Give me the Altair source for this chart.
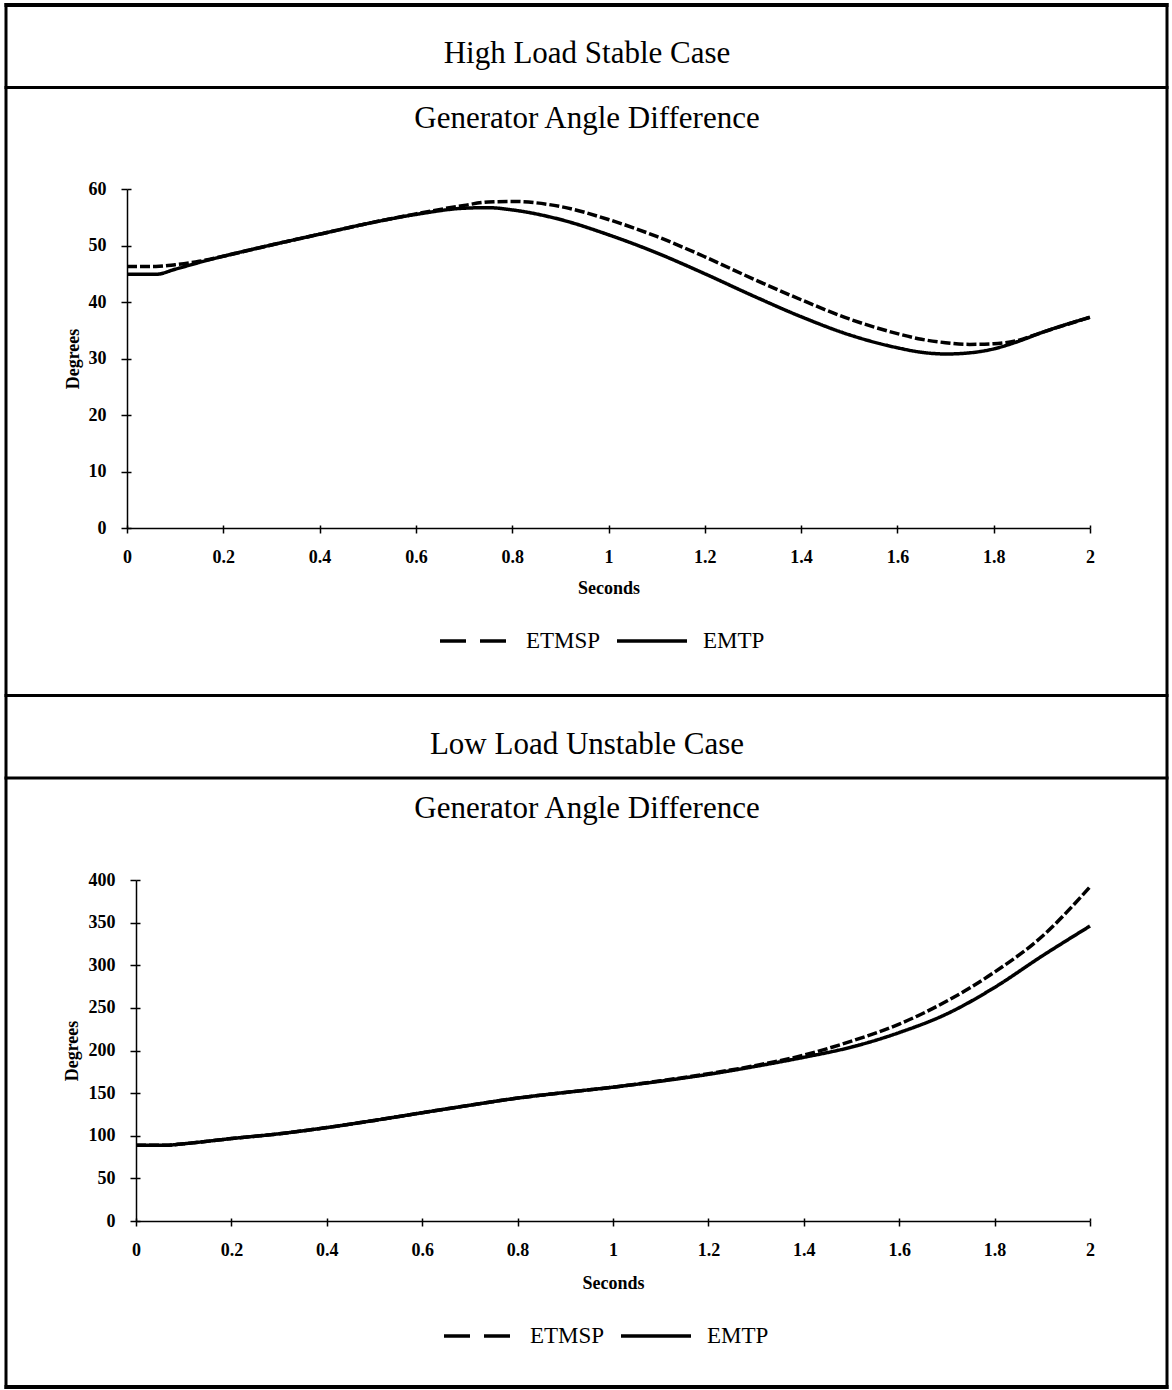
import altair as alt
import pandas as pd

# ---------------- data ----------------
series_names = ["ETMSP", "EMTP"]
x_ticks = [0, 0.2, 0.4, 0.6, 0.8, 1.0, 1.2, 1.4, 1.6, 1.8, 2.0]

high_t = [0, 0.06, 0.1, 0.15, 0.2, 0.3, 0.4, 0.5, 0.6, 0.7, 0.75, 0.8, 0.9,
          1.0, 1.1, 1.2, 1.3, 1.4, 1.5, 1.6, 1.65, 1.7, 1.75, 1.8, 1.85, 1.9, 2.0]
high_emtp = [44.9, 44.9, 45.8, 47.0, 48.1, 50.1, 52.0, 53.9, 55.5, 56.6, 56.7, 56.3, 54.6,
             51.9, 48.7, 45.0, 41.1, 37.4, 34.2, 31.9, 31.1, 30.8, 31.0, 31.7, 33.0, 34.6, 37.3]
high_etmsp = [46.3, 46.3, 46.6, 47.2, 48.1, 50.1, 52.0, 53.9, 55.6, 57.1, 57.7, 57.8, 56.9,
              54.6, 51.6, 48.0, 44.1, 40.4, 37.0, 34.4, 33.4, 32.8, 32.5, 32.6, 33.2, 34.6, 37.3]
high_y_ticks = [0, 10, 20, 30, 40, 50, 60]

low_t = [0, 0.06, 0.1, 0.2, 0.3, 0.4, 0.5, 0.6, 0.7, 0.8, 0.9, 1.0,
         1.1, 1.2, 1.3, 1.4, 1.5, 1.6, 1.7, 1.8, 1.9, 2.0]
low_emtp = [88.8, 88.8, 90.6, 96.7, 102.3, 109.6, 118.0, 127.0, 135.8, 144.2, 150.8, 157.0,
            164.0, 172.0, 181.5, 192.0, 204.0, 221.0, 243.0, 274.0, 311.0, 346.0]
low_etmsp = [88.8, 88.8, 90.6, 96.7, 102.3, 109.6, 118.0, 127.0, 135.8, 144.2, 150.8, 157.0,
             164.5, 172.8, 182.5, 194.5, 211.0, 231.0, 258.0, 292.0, 334.0, 392.0]
low_y_ticks = [0, 50, 100, 150, 200, 250, 300, 350, 400]

FONT = "Liberation Serif"
W, H = 1172, 1390
dummy = pd.DataFrame({"a": [1]})


def hrule(x1, x2, y, w):
    return alt.Chart(dummy).mark_rule(color="black", strokeWidth=w, strokeCap="butt").encode(
        x=alt.value(x1), x2=alt.value(x2), y=alt.value(y))


def vrule(x, y1, y2, w):
    return alt.Chart(dummy).mark_rule(color="black", strokeWidth=w, strokeCap="butt").encode(
        x=alt.value(x), y=alt.value(y1), y2=alt.value(y2))


def label(text, x, y, size):
    return alt.Chart(dummy).mark_text(text=text, font=FONT, fontSize=size, color="black",
                                      align="center", baseline="alphabetic").encode(
        x=alt.value(x), y=alt.value(y))


def panel(t, emtp, etmsp, yticks, x_range, y_range, legend_x, legend_y, xtitle_y, ytitle_x):
    df = pd.DataFrame({
        "t": list(t) + list(t),
        "value": list(etmsp) + list(emtp),
        "series": [series_names[0]] * len(t) + [series_names[1]] * len(t),
    })
    x_scale = alt.Scale(domain=[0, 2], range=x_range, nice=False)
    y_scale = alt.Scale(domain=[0, yticks[-1]], range=y_range, nice=False)
    x_axis = alt.Axis(orient="bottom", offset=-(H - y_range[0]),
                      values=x_ticks, format=".1~f", title="Seconds", grid=False,
                      labelFont=FONT, labelFontSize=18, labelFontWeight="bold",
                      labelColor="black", labelPadding=15, labelFlush=False,
                      tickColor="black", tickSize=5, tickWidth=1.5,
                      domainColor="black", domainWidth=1.5,
                      titleFont=FONT, titleFontSize=18, titleFontWeight="bold",
                      titleColor="black", titleX=(x_range[0] + x_range[1]) / 2, titleY=xtitle_y,
                      titleBaseline="middle")
    y_axis = alt.Axis(orient="left", offset=-x_range[0],
                      values=yticks, title="Degrees", grid=False,
                      labelFont=FONT, labelFontSize=18, labelFontWeight="bold",
                      labelColor="black", labelPadding=15,
                      tickColor="black", tickSize=6, tickWidth=1.5,
                      domainColor="black", domainWidth=1.5,
                      titleFont=FONT, titleFontSize=18, titleFontWeight="bold",
                      titleColor="black", titleX=ytitle_x, titleY=(y_range[0] + y_range[1]) / 2,
                      titleBaseline="middle")
    # inner half of the crossing tick marks
    x_axis_in = alt.Axis(orient="top", offset=-y_range[0], values=x_ticks, labels=False,
                         domain=False, grid=False, title=None, tickColor="black",
                         tickSize=3, tickWidth=1.5)
    y_axis_in = alt.Axis(orient="right", offset=x_range[0] - W, values=yticks, labels=False,
                         domain=False, grid=False, title=None, tickColor="black",
                         tickSize=4, tickWidth=1.5)
    lines = alt.Chart(df).mark_line(interpolate="monotone", strokeWidth=3.5, color="black").encode(
        x=alt.X("t:Q", scale=x_scale, axis=x_axis),
        y=alt.Y("value:Q", scale=y_scale, axis=y_axis),
        strokeDash=alt.StrokeDash("series:N",
                                  scale=alt.Scale(domain=series_names, range=[[10, 3], [1, 0]]),
                                  legend=None),
    )
    legend_layer = alt.Chart(df).transform_filter("false").mark_line(
        strokeWidth=3.5, color="black").encode(
        x=alt.X("t:Q", scale=x_scale, axis=x_axis_in),
        y=alt.Y("value:Q", scale=y_scale, axis=y_axis_in),
        strokeDash=alt.StrokeDash("series:N",
                                  scale=alt.Scale(domain=series_names, range=[[26, 14], [1, 0]]),
                                  legend=alt.Legend(title=None, orient="none", legendX=legend_x,
                                                    legendY=legend_y, direction="horizontal",
                                                    symbolType="stroke", symbolSize=4900,
                                                    symbolStrokeWidth=3.5, symbolStrokeColor="black",
                                                    labelFont=FONT, labelFontSize=23,
                                                    labelColor="black", labelOffset=14,
                                                    columnPadding=9, labelLimit=0, padding=0)),
    )
    return lines, legend_layer


# panel 1 : High Load Stable Case   (plot area x 127..1090, y 189..528)
l1, lg1 = panel(high_t, high_emtp, high_etmsp, high_y_ticks, [127, 1090], [528, 189],
                438, 604, 60, -54)
# panel 2 : Low Load Unstable Case  (plot area x 136..1090, y 880..1221)
l2, lg2 = panel(low_t, low_emtp, low_etmsp, low_y_ticks, [136, 1090], [1221, 880],
                442, 1299, 62, -64)

frame = [
    hrule(4.5, 1168.5, 5, 4),
    hrule(4.5, 1168.5, 87.5, 3),
    hrule(4.5, 1168.5, 695.5, 3),
    hrule(4.5, 1168.5, 778, 3),
    hrule(4.5, 1168.5, 1387, 4),
    vrule(6, 3, 1389, 3),
    vrule(1167, 3, 1389, 3),
    label("High Load Stable Case", 587, 63, 31),
    label("Generator Angle Difference", 587, 128, 31),
    label("Low Load Unstable Case", 587, 754, 31),
    label("Generator Angle Difference", 587, 818, 31),
]

chart = alt.layer(l1, lg1, l2, lg2, *frame).resolve_scale(
    x="independent", y="independent", strokeDash="independent"
).properties(
    width=W, height=H,
    autosize=alt.AutoSizeParams(type="none"),
    padding=0,
    background="white",
).configure_view(stroke=None)

chart.save("out.html", embed_options={"renderer": "svg", "actions": False})
